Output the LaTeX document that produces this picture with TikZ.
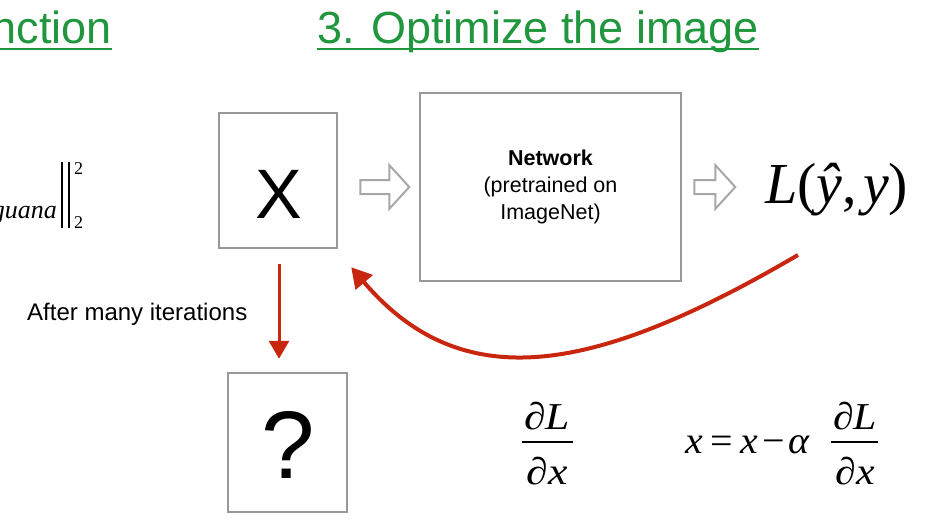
\documentclass[tikz,border=0pt]{standalone}
\usepackage{graphicx}
\usepackage{fontspec}
\setmainfont{Liberation Sans}
\newfontfamily\serifmath{Liberation Serif}
\usetikzlibrary{arrows.meta,calc}
\definecolor{titlegreen}{RGB}{32,150,62}
\definecolor{boxgray}{RGB}{152,152,152}
\definecolor{arrowred}{RGB}{200,38,14}

\begin{document}
\begin{tikzpicture}[x=1pt,y=-1pt,
  every node/.style={inner sep=0pt},
  imgbox/.style={draw=boxgray,line width=2.5pt},
  hollow/.style={draw=boxgray!85,line width=2pt,fill=white,line join=miter},
  redline/.style={draw=arrowred,line width=3pt,-{Triangle[length=18pt,width=20pt]}},
  redcurve/.style={draw=arrowred,line width=4pt,-{Triangle[length=20pt,width=22pt]}},
  titletext/.style={text=titlegreen,font=\fontsize{45}{50}\selectfont},
  underline/.style={draw=titlegreen,line width=2.5pt},
  mathtxt/.style={font=\serifmath\fontsize{38}{38}\selectfont},
  fracbar/.style={draw=black,line width=2.5pt},
  pics/harrow/.style={code={
    \draw[hollow] (0,-7) -- (#1,-7) -- (#1,-22) -- ({#1+20},0) -- (#1,22) -- (#1,7) -- (0,7) -- cycle;
  }}]
\useasboundingbox (0,0) rectangle (935,519);

% section titles
\node[titletext,anchor=base east] (prevtitle) at (112,44) {nction};
\draw[underline] ($(prevtitle.base west)+(0,5)$) -- ($(prevtitle.base east)+(0,5)$);
\node[titletext,anchor=base] (title) at (538,44) {3. Optimize the image};
\draw[underline] ($(title.base west)+(0,5)$) -- ($(title.base east)+(0,5)$);

% tail of the content loss
\node[anchor=base east,font=\serifmath\itshape\fontsize{26}{26}\selectfont] (iguana) at (57,218) {guana};
\draw[line width=2pt] (62,162) -- (62,228);
\draw[line width=2pt] (69,162) -- (69,228);
\node[anchor=base west,font=\serifmath\fontsize{18}{18}\selectfont] (sqr) at (74,174) {2};
\node[anchor=base west,font=\serifmath\fontsize{18}{18}\selectfont] (nrm) at (74,228) {2};

% image, network and loss
\node[imgbox,minimum width=118,minimum height=135] (xbox) at (278,180.5) {};
\node[anchor=base,font=\fontsize{70}{70}\selectfont] (xlabel) at (278.5,218) {X};
\node[imgbox,minimum width=261,minimum height=188,align=center,
      font=\fontsize{21.5}{27}\selectfont] (net) at (550.5,187)
      {\textbf{Network}\\(pretrained on\\ImageNet)};
\node[anchor=base west,font=\serifmath\fontsize{58}{58}\selectfont] (loss) at (765,203)
      {\textit{L}(\textit{ŷ},\hspace{6pt}\textit{y})};

\pic at ($(xbox.east |- net.center)+(22,0)$) {harrow=29};
\pic at ($(net.east)+(12,0)$) {harrow=21};

% backpropagation to the image
\coordinate (fb) at (798,255);
\coordinate (fbend) at ($(xbox.south east)+(13,18)$);
\draw[redcurve] (fb) .. controls (593,375) and (462,397) .. (fbend);

% result after iterating
\node[imgbox,minimum width=119,minimum height=139] (qbox) at (287.5,442.5) {};
\node[anchor=base,font=\fontsize{96}{96}\selectfont] (qlabel) at (288,478) {?};
\draw[redline] ($(xbox.south)+(1,15)$) -- ($(xbox.south |- qbox.north)+(1,-13)$);
\node[anchor=base west,font=\fontsize{24}{28}\selectfont] (iter) at (27,320) {After many iterations};

% gradient
\node[mathtxt,anchor=base] (gnum) at (547,429) {\scalebox{1.15}[1]{∂\textit{L}}};
\node[mathtxt,anchor=base] (gden) at (547,484) {\scalebox{1.15}[1]{∂\textit{x}}};
\draw[fracbar] ($(gnum.base)+(-25,13)$) -- ($(gnum.base)+(26,13)$);

% update rule
\node[mathtxt,anchor=base west] (upd) at (685,453)
      {\scalebox{1.05}[1]{\textit{x}\hspace{7pt}=\hspace{7pt}\textit{x}\hspace{4pt}−\hspace{4pt}\textit{α}}};
\node[mathtxt,anchor=base] (unum) at (855,429) {\scalebox{1.1}[1]{∂\textit{L}}};
\node[mathtxt,anchor=base] (uden) at (855,484) {\scalebox{1.1}[1]{∂\textit{x}}};
\draw[fracbar] ($(unum.base)+(-24,13)$) -- ($(unum.base)+(23,13)$);
\end{tikzpicture}
\end{document}
